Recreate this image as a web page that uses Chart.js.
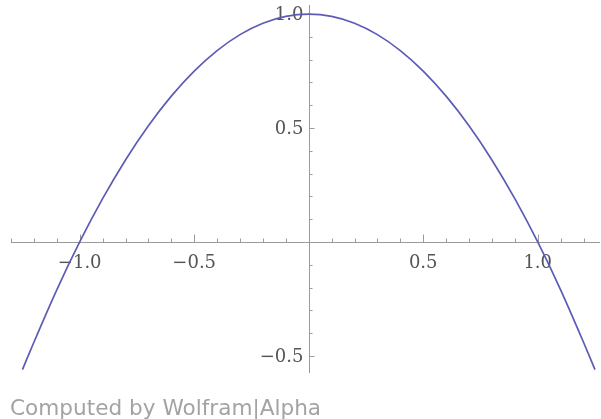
<!DOCTYPE html>
<html>
<head>
<meta charset="utf-8">
<script src="https://cdn.jsdelivr.net/npm/chart.js@4.4.1/dist/chart.umd.min.js"></script>
<style>
  html, body { margin: 0; padding: 0; background: #fff; }
  #wrap { position: relative; width: 601px; height: 419px; }
  #credit {
    position: absolute; left: 10px; top: 394px;
    font-family: "DejaVu Sans", sans-serif; font-size: 21.6px;
    color: #a3a3a3; white-space: nowrap; line-height: 28px;
  }
</style>
</head>
<body>
<div id="wrap">
  <canvas id="chart"></canvas>
  <div id="credit">Computed by Wolfram|Alpha</div>
</div>
<script>
// curve points
const xValues = [-1.25, -1.2, -1.1, -1.0, -0.9, -0.8, -0.7, -0.6, -0.5, -0.4, -0.3, -0.2, -0.1, 0,
  0.1, 0.2, 0.3, 0.4, 0.5, 0.6, 0.7, 0.8, 0.9, 1.0, 1.1, 1.2, 1.25];
const yValues = [-0.56, -0.44, -0.21, 0, 0.19, 0.36, 0.51, 0.64, 0.75, 0.84, 0.91, 0.96, 0.99, 1.0,
  0.99, 0.96, 0.91, 0.84, 0.75, 0.64, 0.51, 0.36, 0.19, 0, -0.21, -0.44, -0.56];

// axis ticks
const xMinorTicks = [-1.3, -1.2, -1.1, -0.9, -0.8, -0.7, -0.6, -0.4, -0.3, -0.2, -0.1,
  0.1, 0.2, 0.3, 0.4, 0.6, 0.7, 0.8, 0.9, 1.1, 1.2];
const xMajorTicks = [-1.0, -0.5, 0.5, 1.0];
const xTickLabels = ['\u22121.0', '\u22120.5', '0.5', '1.0'];
const yMinorTicks = [-0.4, -0.3, -0.2, -0.1, 0.1, 0.2, 0.3, 0.4, 0.6, 0.7, 0.8, 0.9];
const yMajorTicks = [-0.5, 0.5, 1.0];
const yTickLabels = ['\u22120.5', '0.5', '1.0'];

const axisColor = '#9a9a9a';
const labelColor = '#555555';

// axes through the origin, Mathematica style
const originAxes = {
  id: 'originAxes',
  beforeDatasetsDraw(chart) {
    const ctx = chart.ctx;
    const xs = chart.scales.x;
    const ys = chart.scales.y;
    const area = chart.chartArea;
    const x0 = Math.round(xs.getPixelForValue(0)) + 0.5;
    const y0 = Math.round(ys.getPixelForValue(0)) + 0.5;

    ctx.save();
    ctx.strokeStyle = axisColor;
    ctx.lineWidth = 1;
    ctx.beginPath();
    ctx.moveTo(area.left, y0);
    ctx.lineTo(area.right, y0);
    ctx.moveTo(x0, area.top);
    ctx.lineTo(x0, area.bottom);

    xMinorTicks.forEach(v => {
      const px = Math.round(xs.getPixelForValue(v)) + 0.5;
      ctx.moveTo(px, y0);
      ctx.lineTo(px, y0 - 4);
    });
    xMajorTicks.forEach(v => {
      const px = Math.round(xs.getPixelForValue(v)) + 0.5;
      ctx.moveTo(px, y0);
      ctx.lineTo(px, y0 - 8);
    });
    yMinorTicks.forEach(v => {
      const py = Math.round(ys.getPixelForValue(v)) + 0.5;
      ctx.moveTo(x0, py);
      ctx.lineTo(x0 + 3, py);
    });
    yMajorTicks.forEach(v => {
      const py = Math.round(ys.getPixelForValue(v)) + 0.5;
      ctx.moveTo(x0, py);
      ctx.lineTo(x0 + 5, py);
    });
    ctx.stroke();

    ctx.fillStyle = labelColor;
    ctx.font = '18px "DejaVu Serif"';
    ctx.textAlign = 'center';
    ctx.textBaseline = 'alphabetic';
    xMajorTicks.forEach((v, i) => {
      ctx.fillText(xTickLabels[i], xs.getPixelForValue(v), y0 + 25);
    });
    ctx.textAlign = 'right';
    ctx.textBaseline = 'middle';
    yMajorTicks.forEach((v, i) => {
      ctx.fillText(yTickLabels[i], x0 - 6, ys.getPixelForValue(v) + 1);
    });
    ctx.restore();
  }
};

const canvas = document.getElementById('chart');
canvas.width = 601;
canvas.height = 419;

const ctx = canvas.getContext('2d');
const chart = new Chart(ctx, {
  type: 'scatter',
  data: {
    datasets: [{
      label: 'y',
      data: xValues.map((x, i) => ({ x: x, y: yValues[i] })),
      showLine: true,
      borderColor: '#5c5cb6',
      borderWidth: 1.7,
      pointRadius: 0,
      cubicInterpolationMode: 'monotone',
      fill: false
    }]
  },
  options: {
    responsive: false,
    animation: false,
    layout: { padding: { left: 11, right: 1, top: 5, bottom: 46 } },
    plugins: {
      legend: { display: false },
      tooltip: { enabled: false }
    },
    scales: {
      x: { type: 'linear', min: -1.3, max: 1.272, display: false },
      y: { type: 'linear', min: -0.575, max: 1.04, display: false }
    }
  },
  plugins: [originAxes]
});
</script>
</body>
</html>
